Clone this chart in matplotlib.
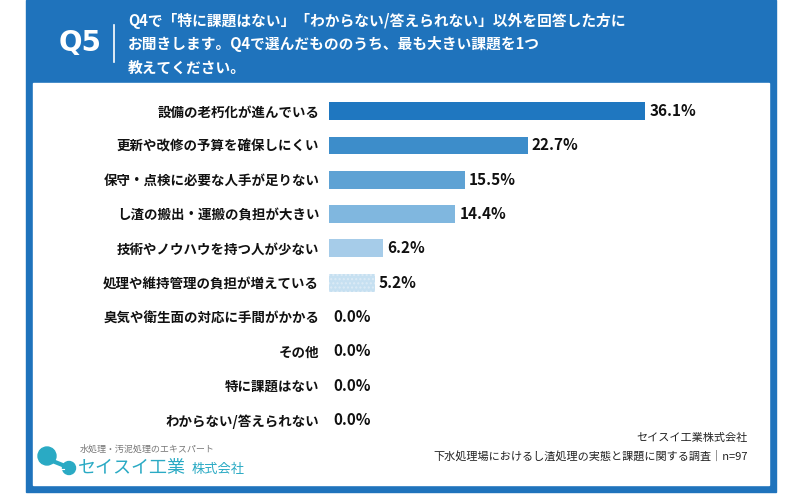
import matplotlib.pyplot as plt
from matplotlib.patches import Rectangle, Circle

plt.rcParams['font.family'] = ['Noto Sans CJK JP', 'DejaVu Sans']

# data
labels = ["設備の老朽化が進んでいる", "更新や改修の予算を確保しにくい", "保守・点検に必要な人手が足りない",
          "し渣の搬出・運搬の負担が大きい", "技術やノウハウを持つ人が少ない", "処理や維持管理の負担が増えている",
          "臭気や衛生面の対応に手間がかかる", "その他", "特に課題はない", "わからない/答えられない"]
values = [36.1, 22.7, 15.5, 14.4, 6.2, 5.2, 0.0, 0.0, 0.0, 0.0]
colors = ["#1f77c0", "#3d8dca", "#5ea2d4", "#80b7df", "#a6cce9", "#c6e0f1",
          "#d5e7f4", "#d5e7f4", "#d5e7f4", "#d5e7f4"]

blue = "#1f73bc"
W, H = 800, 500
fig = plt.figure(figsize=(8, 5), dpi=100)

# background frame + header
bg = fig.add_axes([0, 0, 1, 1])
bg.set_xlim(0, W)
bg.set_ylim(H, 0)
bg.axis('off')
bg.add_patch(Rectangle((26, 0), 750, 492, color=blue))
bg.add_patch(Rectangle((33, 83), 736, 402, color='white'))
bg.text(80, 43, "Q5", color='white', fontsize=20, fontweight='bold', ha='center', va='center',
        family=['DejaVu Sans'])
bg.plot([114, 114], [25, 62], color='white', lw=1.2)
title = ["Q4で「特に課題はない」「わからない/答えられない」以外を回答した方に",
         "お聞きします。Q4で選んだもののうち、最も大きい課題を1つ",
         "教えてください。"]
for i, t in enumerate(title):
    bg.text(128, 21 + i * 23.5, t, color='white', fontsize=10.6, fontweight='bold', va='center')

# logo
teal = "#2aaac4"
bg.add_patch(Circle((47, 456), 9, color=teal))
bg.add_patch(Circle((69, 468), 6.5, color=teal))
bg.plot([50, 70], [460, 468], color=teal, lw=3)
bg.plot([52, 64], [469, 469], color='white', lw=0.8)
bg.text(80, 449, "水処理・汚泥処理のエキスパート", color='#777777', fontsize=6.5, va='center')
bg.text(78, 468, "セイスイ工業", color=teal, fontsize=13, va='center')
bg.text(192, 470, "株式会社", color=teal, fontsize=9.5, va='center')

bg.text(748, 438, "セイスイ工業株式会社", color='#222222', fontsize=8, ha='right', va='center')
bg.text(748, 456, "下水処理場におけるし渣処理の実態と課題に関する調査｜n=97", color='#222222',
        fontsize=8, ha='right', va='center')

# bar chart
ax = fig.add_axes([329 / W, 1 - 437 / H, 350 / W, 343 / H])
ax.patch.set_visible(False)
y = list(range(len(labels)))
bars = ax.barh(y, values, height=0.52, color=colors)
bars[5].set_hatch('....')
bars[5].set_edgecolor('#dcebf6')
bars[5].set_linewidth(0)
ax.set_xlim(0, 40)
ax.set_ylim(len(labels) - 0.5, -0.5)
ax.set_yticks(y)
ax.set_yticklabels(labels, fontsize=9.7, fontweight='bold', color='#111111')
ax.tick_params(axis='y', length=0, pad=7)
ax.set_xticks([])
for s in ax.spines.values():
    s.set_visible(False)
for i, v in enumerate(values):
    ax.text(v + 0.5, i, f"{v:.1f}%", va='center', ha='left', fontsize=11, fontweight='bold',
            color='#111111')

fig.savefig("out.png", dpi=100)
